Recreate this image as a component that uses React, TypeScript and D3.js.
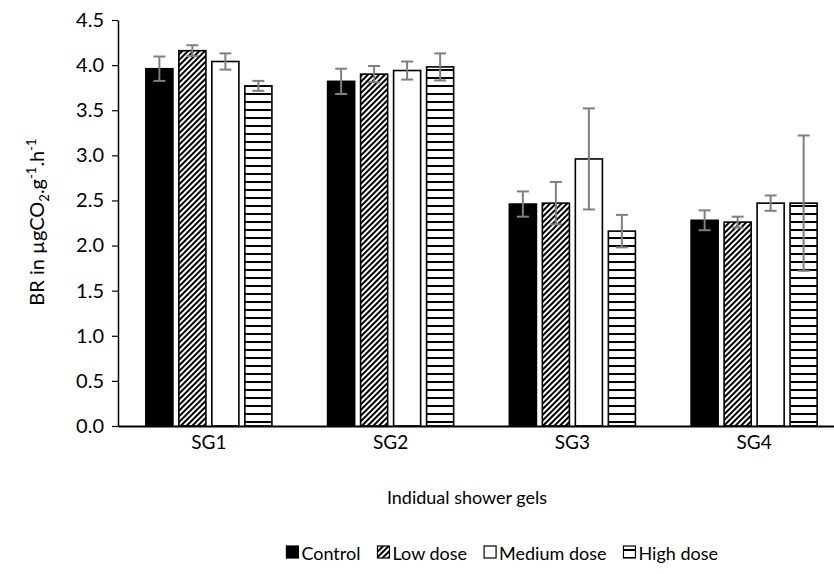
import React, {useEffect, useRef} from "react";
import * as d3 from 'd3';

const WIDTH = 834;
const HEIGHT = 574;
const FONT = "Lato, 'Noto Sans', sans-serif";

const categories = ["SG1", "SG2", "SG3", "SG4"];
const seriesNames = ["Control", "Low dose", "Medium dose", "High dose"];
const control = [3.96, 3.82, 2.46, 2.28];
const lowDose = [4.16, 3.90, 2.47, 2.26];
const mediumDose = [4.04, 3.94, 2.96, 2.47];
const highDose = [3.77, 3.98, 2.16, 2.47];
const controlErr = [0.135, 0.14, 0.14, 0.11];
const lowDoseErr = [0.06, 0.09, 0.235, 0.06];
const mediumDoseErr = [0.09, 0.1, 0.56, 0.085];
const highDoseErr = [0.055, 0.15, 0.18, 0.75];
const yTicks = [0, 0.5, 1, 1.5, 2, 2.5, 3, 3.5, 4, 4.5];

const fills = ["#000000", "url(#diag)", "#ffffff", "url(#horiz)"];

const App: React.FC = () => {
    const ref = useRef(null);

    useEffect(() => {
        const svg = d3.select(ref.current);
        svg.selectAll('*').remove();

        const values = [control, lowDose, mediumDose, highDose];
        const errs = [controlErr, lowDoseErr, mediumDoseErr, highDoseErr];

        const x0 = d3.scaleBand().domain(categories).range([118, 845]);
        const x1 = d3.scaleBand().domain(seriesNames)
            .range([-66, 66]).paddingInner(0.18).paddingOuter(0.09);
        const y = d3.scaleLinear().domain([0, 4.5]).range([426, 20]);

        const defs = svg.append('defs');
        const diag = defs.append('pattern').attr('id', 'diag')
            .attr('patternUnits', 'userSpaceOnUse')
            .attr('width', 4).attr('height', 4)
            .attr('patternTransform', 'rotate(45)');
        diag.append('rect').attr('width', 4).attr('height', 4).attr('fill', '#fff');
        diag.append('rect').attr('width', 2).attr('height', 4).attr('fill', '#000');
        const horiz = defs.append('pattern').attr('id', 'horiz')
            .attr('patternUnits', 'userSpaceOnUse')
            .attr('width', 8).attr('height', 8);
        horiz.append('rect').attr('width', 8).attr('height', 8).attr('fill', '#fff');
        horiz.append('rect').attr('y', 5).attr('width', 8).attr('height', 2).attr('fill', '#000');

        // bars
        const barsG = svg.append('g');
        seriesNames.forEach((s, si) => {
            barsG.selectAll(null)
                .data(categories)
                .enter()
                .append('rect')
                .attr('x', (c) => (x0(c) as number) + x0.bandwidth() / 2 + (x1(s) as number))
                .attr('y', (c, i) => y(values[si][i]))
                .attr('width', x1.bandwidth())
                .attr('height', (c, i) => y(0) - y(values[si][i]))
                .attr('fill', fills[si])
                .attr('stroke', '#000')
                .attr('stroke-width', 1.6);
        });

        // error bars
        const errG = svg.append('g').attr('stroke', '#7f7f7f').attr('stroke-width', 2);
        seriesNames.forEach((s, si) => {
            categories.forEach((c, i) => {
                const cx = (x0(c) as number) + x0.bandwidth() / 2 + (x1(s) as number) + x1.bandwidth() / 2;
                const top = y(values[si][i] + errs[si][i]);
                const bot = y(values[si][i] - errs[si][i]);
                errG.append('line').attr('x1', cx).attr('x2', cx).attr('y1', top).attr('y2', bot);
                errG.append('line').attr('x1', cx - 6).attr('x2', cx + 6).attr('y1', top).attr('y2', top);
                errG.append('line').attr('x1', cx - 6).attr('x2', cx + 6).attr('y1', bot).attr('y2', bot);
            });
        });

        // y axis
        const yAxis = d3.axisLeft(y).tickValues(yTicks).tickSize(6).tickSizeOuter(0)
            .tickFormat(d3.format('.1f'));
        const yG = svg.append('g').attr('transform', 'translate(118,0)').call(yAxis);
        yG.select('.domain').attr('stroke', '#000').attr('stroke-width', 1.5);
        yG.selectAll('.tick line').attr('stroke', '#000').attr('stroke-width', 1.2);
        yG.selectAll('.tick text').attr('font-family', FONT).attr('font-size', 20)
            .attr('fill', '#000').attr('x', -14);

        // x axis
        const xAxis = d3.axisBottom(x0).tickSize(0).tickPadding(10);
        const xG = svg.append('g').attr('transform', 'translate(0,426)').call(xAxis);
        xG.select('.domain').attr('stroke', '#000').attr('stroke-width', 2.2);
        xG.selectAll('.tick text').attr('font-family', FONT).attr('font-size', 19).attr('fill', '#000');

        // axis titles
        svg.append('text')
            .attr('x', 467).attr('y', 504)
            .attr('text-anchor', 'middle')
            .attr('font-family', FONT).attr('font-size', 18)
            .text('Indidual shower gels');

        const yTitle = svg.append('text')
            .attr('transform', 'translate(44,222) rotate(-90)')
            .attr('text-anchor', 'middle')
            .attr('font-family', FONT).attr('font-size', 20);
        yTitle.append('tspan').text('BR in µgCO');
        yTitle.append('tspan').attr('font-size', 13).attr('dy', 5).text('2');
        yTitle.append('tspan').attr('dy', -5).text('.g');
        yTitle.append('tspan').attr('font-size', 13).attr('dy', -8).text('-1');
        yTitle.append('tspan').attr('dy', 8).text('.h');
        yTitle.append('tspan').attr('font-size', 13).attr('dy', -8).text('-1');

        // legend, laid out right to left from its right end
        const lg = svg.append('g');
        const sw = 12, swGap = 3, itemGap = 17;
        let right = 718;
        for (let si = seriesNames.length - 1; si >= 0; si--) {
            const t = lg.append('text')
                .attr('y', 560)
                .attr('font-family', FONT).attr('font-size', 18)
                .text(seriesNames[si]);
            const w = (t.node() as SVGTextElement).getComputedTextLength();
            const tx = right - w;
            t.attr('x', tx);
            lg.append('rect')
                .attr('x', tx - swGap - sw).attr('y', 546)
                .attr('width', sw).attr('height', sw)
                .attr('fill', fills[si]).attr('stroke', '#000').attr('stroke-width', 1.2);
            right = tx - swGap - sw - itemGap;
        }
    }, []);

    return (
        <svg ref={ref} width={WIDTH} height={HEIGHT}
             style={{position: 'absolute', left: 0, top: 0, background: '#fff'}}/>
    );
};

export default App;
